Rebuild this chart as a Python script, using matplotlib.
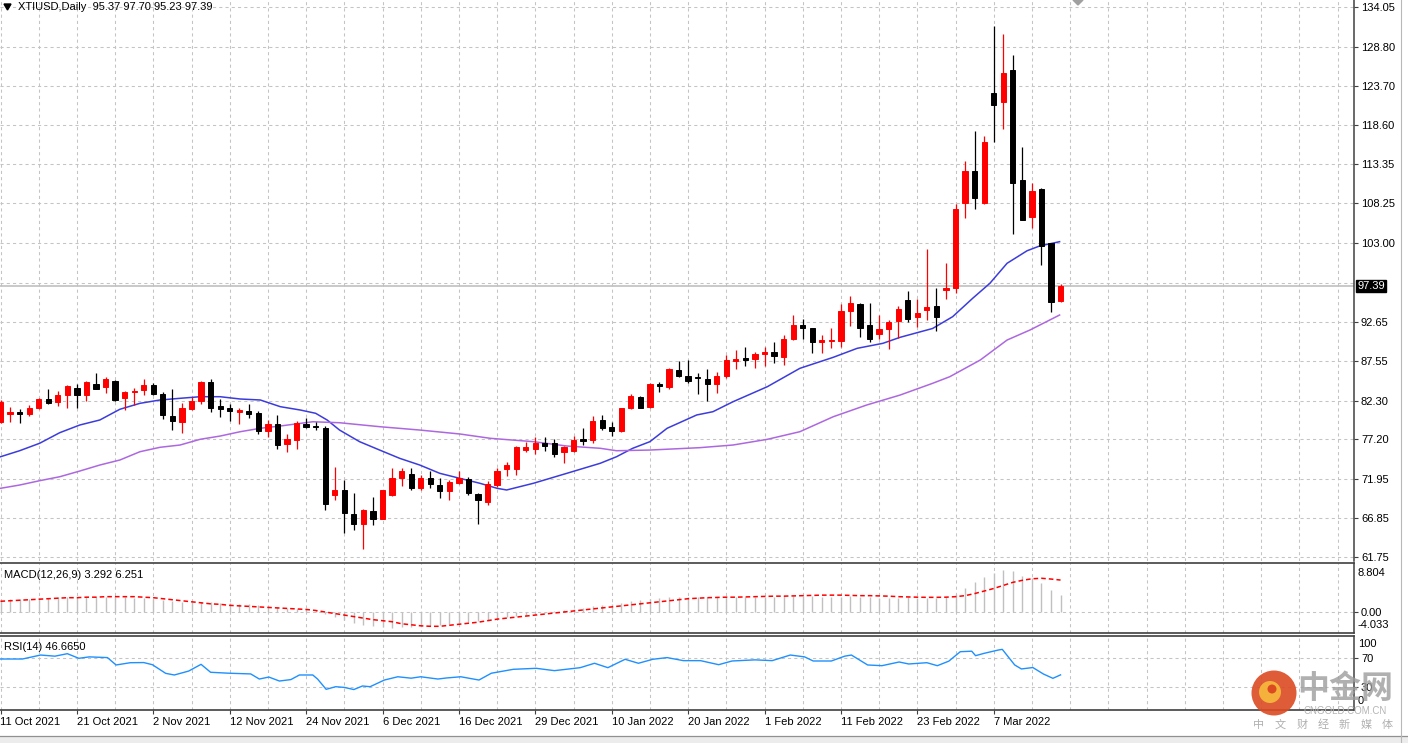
import numpy as np
import matplotlib
matplotlib.use('Agg')
import matplotlib.pyplot as plt
from matplotlib.patches import Rectangle, Ellipse, Polygon
import matplotlib.transforms as mtrans

# ---- data ----
opens = [79.5, 80.5, 80.8, 80.5, 81.4, 82.5, 82.1, 83.1, 84.0, 83.1,
         84.5, 84.1, 84.9, 82.6, 83.4, 83.7, 84.3, 83.2, 80.3, 79.5,
         81.2, 82.2, 84.7, 81.6, 81.3, 80.8, 81.0, 80.7, 78.3, 79.2,
         76.6, 77.1, 79.2, 79.0, 78.7, 69.9, 70.6, 67.4, 66.1, 67.8,
         66.8, 69.9, 72.1, 72.7, 70.8, 72.2, 71.2, 70.4, 71.5, 72.0,
         70.0, 69.0, 71.2, 73.3, 73.3, 75.8, 75.9, 76.7, 76.7, 75.6,
         75.7, 77.2, 77.1, 79.7, 78.9, 78.3, 81.3, 82.8, 81.5, 84.45,
         84.1, 86.3, 85.5, 85.35, 85.2, 84.5, 85.5, 87.5, 87.9, 87.8,
         88.4, 88.7, 88.1, 90.4, 92.25, 91.8, 90.0, 90.15, 90.2, 94.1,
         95.0, 92.25, 91.1, 91.7, 92.8, 95.5, 93.3, 94.2, 94.8, 96.85,
         97.1, 108.3, 112.5, 108.3, 122.7, 121.5, 125.8, 111.3, 106.5, 110.1,
         103.0, 95.37]
highs = [82.4, 81.5, 81.2, 81.7, 82.7, 83.8, 83.6, 84.3, 84.5, 84.9,
         86.0, 85.4, 85.0, 83.6, 84.0, 85.2, 84.6, 83.4, 83.8, 82.0,
         82.8, 84.9, 85.2, 82.5, 81.9, 81.3, 81.9, 80.9, 79.8, 80.4,
         77.9, 79.6, 80.0, 79.5, 79.0, 73.6, 71.9, 70.1, 68.1, 69.7,
         70.6, 73.4, 73.4, 73.5, 72.5, 73.1, 72.1, 71.9, 73.0, 72.3,
         70.1, 71.7, 73.4, 74.3, 76.3, 76.9, 77.5, 77.5, 77.2, 76.3,
         77.7, 78.7, 80.3, 80.4, 79.5, 81.4, 83.2, 82.9, 84.6, 84.8,
         86.6, 87.5, 87.7, 86.0, 86.5, 86.1, 88.3, 89.0, 89.3, 88.7,
         89.3, 90.05, 90.9, 93.6, 93.0, 91.9, 90.9, 91.9, 95.0, 96.1,
         95.2, 95.1, 93.5, 92.9, 94.7, 96.7, 95.7, 102.2, 97.1, 100.4,
         108.15, 113.8, 117.75, 117.1, 131.55, 130.5, 127.7, 115.7, 110.95, 110.2,
         103.0, 97.70]
lows = [79.3, 79.5, 79.4, 80.3, 81.2, 81.8, 81.6, 81.3, 81.3, 82.3,
        83.8, 83.3, 82.3, 81.1, 81.7, 83.1, 83.0, 79.9, 78.4, 78.1,
        81.1, 81.9, 80.8, 80.2, 79.6, 79.2, 80.0, 77.9, 77.5, 75.9,
        75.5, 75.9, 78.7, 78.5, 67.9, 69.3, 64.9, 65.3, 62.8, 66.0,
        66.7, 69.8, 71.1, 70.6, 70.6, 70.8, 69.5, 69.3, 71.3, 69.9,
        66.1, 68.6, 71.0, 72.4, 72.5, 75.5, 75.3, 75.7, 74.9, 74.1,
        75.6, 76.5, 76.7, 78.4, 77.7, 78.2, 81.2, 81.3, 81.4, 83.4,
        83.9, 85.45, 84.6, 83.2, 82.3, 83.3, 85.3, 86.4, 86.8, 86.6,
        86.8, 87.3, 87.0, 90.3, 90.4, 88.6, 88.6, 89.2, 89.4, 92.1,
        90.7, 90.0, 90.4, 89.05, 90.5, 92.6, 92.0, 92.9, 91.4, 95.7,
        96.4, 106.3, 107.45, 108.15, 116.3, 118.0, 104.2, 106.05, 105.0, 100.1,
        93.9, 95.23]
closes = [82.1, 80.8, 80.5, 81.4, 82.5, 82.0, 83.0, 84.2, 83.0, 84.7,
          83.9, 85.1, 82.4, 83.5, 83.6, 84.3, 83.2, 80.4, 79.6, 81.4,
          82.3, 84.7, 81.3, 81.2, 80.9, 81.1, 80.6, 78.3, 79.2, 76.5,
          77.3, 79.4, 78.9, 78.8, 68.7, 70.6, 67.5, 66.1, 67.9, 66.7,
          70.5, 72.2, 73.1, 70.8, 72.2, 71.3, 70.4, 71.6, 72.1, 70.1,
          69.2, 71.4, 73.1, 73.9, 76.2, 76.2, 76.8, 76.4, 75.3, 76.2,
          77.1, 77.0, 79.6, 78.7, 78.3, 81.3, 82.9, 81.4, 84.5, 84.2,
          86.4, 85.54, 84.9, 85.25, 84.5, 85.5, 87.7, 87.75, 87.65, 88.5,
          88.7, 88.2, 90.4, 92.2, 91.9, 90.05, 90.3, 90.3, 94.1, 95.1,
          91.9, 90.4, 91.7, 92.7, 94.4, 93.0, 93.8, 94.6, 93.25, 97.15,
          107.45, 112.5, 109.0, 116.3, 121.2, 125.4, 110.95, 106.1, 109.85, 102.6,
          95.3, 97.39]

ma_fast_bar = [0, 2.0, 4.1, 6.2, 8.3, 10.4, 12.5, 14.6, 16.7, 18.8, 20.9, 23, 25.1, 27.2,
               29.3, 31.4, 33, 34.2, 35.5, 37.6, 39.7, 41.8, 43.9, 46, 48.1, 50.2, 52, 53,
               55.8, 59.3, 62.8, 64.5, 66.2, 68, 69.8, 72.9, 74.6, 76.7, 80.3, 83.7, 87.2,
               89.7, 92.4, 94.2, 97.6, 99.7, 101.8, 103.6, 105.4, 107.5, 108.8, 110.9]
ma_fast_val = [74.93, 75.72, 76.7, 78.09, 79.1, 79.76, 81.17, 81.95, 82.39, 82.61, 82.82,
               82.82, 82.52, 82.39, 81.51, 81.07, 80.64, 79.76, 78.44, 76.91, 75.81, 74.72,
               73.84, 72.75, 72.09, 71.44, 70.78, 70.56, 71.44, 72.75, 74.07, 74.93, 76.04,
               76.91, 78.67, 80.42, 80.85, 82.16, 84.14, 86.55, 88.0, 89.18, 89.84, 90.63,
               91.79, 93.34, 95.76, 97.73, 100.36, 102.01, 102.63, 103.2]

ma_slow_bar = [0, 2, 4.1, 6.2, 8.3, 10.4, 12.5, 14.6, 16.7, 18.8, 20.9, 23, 25.1, 27.2, 29.3,
               32.7, 35.5, 39.7, 43.9, 48.1, 51.3, 55.8, 59.3, 62.8, 64.5, 68, 73.2, 76.7,
               80.3, 83.7, 87.2, 90.7, 94.2, 97.6, 99.4, 102.6, 105.4, 107.8, 110.9]
ma_slow_val = [70.78, 71.21, 71.78, 72.3, 73.05, 73.84, 74.5, 75.59, 76.17, 76.47, 77.22,
               77.65, 78.22, 78.67, 78.97, 79.53, 79.4, 78.88, 78.44, 77.92, 77.35, 76.91,
               76.34, 76.04, 75.72, 75.81, 76.12, 76.47, 77.22, 78.22, 80.19, 81.73, 83.04,
               84.58, 85.45, 87.65, 90.27, 91.59, 93.56]

macd_main = [2.4, 2.5, 2.5, 2.6, 2.7, 2.8, 2.9, 3.0, 3.0, 3.0,
             3.0, 3.0, 2.9, 2.9, 2.8, 2.7, 2.6, 2.4, 2.2, 2.0,
             1.9, 1.9, 1.9, 1.8, 1.7, 1.6, 1.5, 1.3, 1.1, 0.9,
             0.7, 0.6, 0.5, 0.4, -0.4, -1.0, -1.6, -2.1, -2.5, -2.8,
             -3.0, -3.1, -3.0, -2.9, -2.8, -2.7, -2.5, -2.4, -2.2, -2.0,
             -1.8, -1.6, -1.3, -1.0, -0.7, -0.5, -0.3, -0.1, 0.1, 0.3,
             0.5, 0.8, 1.1, 1.3, 1.5, 1.8, 2.1, 2.3, 2.5, 2.7,
             2.9, 3.0, 3.0, 3.0, 2.9, 2.9, 3.0, 3.0, 3.0, 3.0,
             3.0, 3.0, 3.1, 3.2, 3.2, 3.1, 3.0, 2.9, 3.0, 3.1,
             3.0, 2.9, 2.8, 2.8, 2.8, 2.9, 2.8, 2.8, 2.8, 2.9,
             3.5, 4.6, 5.9, 6.8, 7.6, 8.2, 8.0, 7.1, 6.7, 5.6,
             4.4, 3.292]
macd_signal = [2.1, 2.2, 2.3, 2.4, 2.5, 2.6, 2.7, 2.8, 2.8, 2.9,
               2.9, 3.0, 3.0, 3.0, 3.0, 2.9, 2.8, 2.6, 2.4, 2.2,
               2.0, 1.8, 1.6, 1.5, 1.3, 1.2, 1.1, 1.0, 0.9, 0.8,
               0.7, 0.6, 0.5, 0.3, 0.0, -0.3, -0.6, -0.9, -1.2, -1.5,
               -1.7, -1.9, -2.3, -2.5, -2.7, -2.8, -2.8, -2.6, -2.4, -2.2,
               -2.0, -1.7, -1.4, -1.2, -1.0, -0.8, -0.6, -0.4, -0.2, 0.0,
               0.2, 0.4, 0.6, 0.8, 1.0, 1.2, 1.4, 1.6, 1.8, 2.0,
               2.2, 2.4, 2.6, 2.7, 2.8, 2.85, 2.9, 2.9, 2.95, 3.0,
               3.05, 3.1, 3.1, 3.15, 3.2, 3.25, 3.3, 3.3, 3.3, 3.25,
               3.2, 3.2, 3.15, 3.1, 3.0, 2.95, 2.9, 2.87, 2.87, 2.9,
               3.0, 3.2, 3.6, 4.1, 4.6, 5.2, 5.8, 6.2, 6.5, 6.6,
               6.45, 6.251]

rsi_bar = [0, 2.3, 4.2, 5.7, 7, 8.2, 9.3, 11.2, 12.1, 13.6, 15, 15.9, 17.3, 18.2, 19.7, 21,
           22, 23.9, 26.2, 27.1, 28.1, 29.2, 30.4, 31.3, 32.7, 33.2, 34.1, 35.1, 36, 37,
           37.9, 38.7, 40.2, 41.6, 43, 44, 45.8, 46.7, 48.2, 50.1, 51.4, 53.7, 56.1, 58,
           60.7, 62.2, 63.6, 65.4, 66.8, 68.3, 69.8, 71.5, 73.3, 75.2, 76.6, 79, 80.8,
           82.7, 84.2, 85.1, 87, 88.4, 89.1, 90.8, 92.3, 94.1, 95.1, 97, 98.1, 99.3,
           100.5, 101.7, 102.1, 103, 104.5, 104.9, 106.2, 106.9, 108.1, 109.2, 110.2, 111]
rsi_val = [69, 69, 74.6, 73, 76.5, 70, 72, 71, 60.6, 63.8, 64, 61, 48.8, 46.5, 52, 61.5,
           50.3, 49, 48, 40.8, 43.6, 38, 40, 46.5, 46.5, 40.8, 26.3, 30, 29, 26,
           31, 30, 39.4, 44, 42, 44, 40.8, 42.3, 44, 39.4, 49, 54.5, 55.9, 52.6,
           56.8, 63, 56.8, 68.6, 63, 68.6, 71, 66.7, 66.7, 61, 66.2, 67.8, 66.7,
           74.6, 72, 66.2, 66.2, 73, 74.6, 60.6, 59.6, 64.8, 62, 63.8, 59.6, 66,
           79.3, 80, 73.7, 77, 81.7, 82.6, 60.6, 55, 57, 47.9, 41.8, 46.665]

price_ticks = [134.05, 128.80, 123.70, 118.60, 113.35, 108.25, 103.00,
               92.65, 87.55, 82.30, 77.20, 71.95, 66.85, 61.75]
date_labels = ["11 Oct 2021", "21 Oct 2021", "2 Nov 2021", "12 Nov 2021", "24 Nov 2021",
               "6 Dec 2021", "16 Dec 2021", "29 Dec 2021", "10 Jan 2022", "20 Jan 2022",
               "1 Feb 2022", "11 Feb 2022", "23 Feb 2022", "7 Mar 2022"]

# ---- figure geometry ----
W, H = 1408, 743
FONT = 'Liberation Sans'
FS = 8
plt.rcParams['font.family'] = [FONT, 'DejaVu Sans']
fig = plt.figure(figsize=(W / 100, H / 100), dpi=100)

def fx(px):
    return px / W

def fy(py):
    return 1 - py / H

def axes_px(x0, y0, x1, y1):
    return fig.add_axes([fx(x0), fy(y1), fx(x1) - fx(x0), fy(y0) - fy(y1)])

def disc(xc, yc, r, **kw):
    # round patch given in pixel units
    fig.add_artist(Ellipse((fx(xc), fy(yc)), 2 * r / W, 2 * r / H,
                           transform=fig.transFigure, **kw))

ax = axes_px(0, 0, 1354, 561)
axm = axes_px(0, 563.3, 1354, 632.7)
axr = axes_px(0, 636, 1354, 710)

BAR = 9.55
xl = (-0.5 / BAR, (1354 - 0.5) / BAR)
grid_kw = dict(color='#c4c4c4', lw=0.75, ls=(0, (3, 3)), zorder=0)
vgrid = np.arange(0, 142, 4)
frame = '#404040'

for a in (ax, axm, axr):
    a.set_xlim(*xl)
    for s in ('top', 'left', 'bottom'):
        a.spines[s].set_visible(False)
    a.spines['right'].set_color(frame)
    a.spines['right'].set_linewidth(1.1)
    for v in vgrid:
        a.axvline(v, **grid_kw)
    a.tick_params(axis='x', bottom=False, labelbottom=False)
    a.yaxis.tick_right()
    a.tick_params(axis='y', direction='out', length=3, width=0.8, color=frame,
                  labelsize=FS, pad=2)
for a in (axm, axr):
    for s in ('top', 'bottom'):
        a.spines[s].set_visible(True)
        a.spines[s].set_color(frame)
        a.spines[s].set_linewidth(1.2)

# ---- main price window ----
ax.set_ylim(61.75 - 4 / 7.607, 134.05 + 7 / 7.607)
for t in price_ticks + [97.83]:
    ax.axhline(t, **grid_kw)
ax.set_yticks(price_ticks)
ax.set_yticklabels([f"{t:.2f}" for t in price_ticks])
ax.axhline(closes[-1], color='#c0c0c0', lw=1.2, zorder=1)

xs = np.arange(len(opens))
o = np.array(opens); c = np.array(closes)
up = c >= o
cols = np.where(up, '#ff0000', '#000000')
ax.vlines(xs, lows, highs, colors=cols, lw=0.9, zorder=3)
ax.bar(xs, np.abs(c - o), bottom=np.minimum(o, c), width=0.55, color=cols,
       edgecolor=cols, linewidth=0.7, zorder=4)

ax.plot(ma_fast_bar, ma_fast_val, color='#3c3cdc', lw=1.1, zorder=2)
ax.plot(ma_slow_bar, ma_slow_val, color='#ad68e0', lw=1.1, zorder=2)

trans = mtrans.blended_transform_factory(ax.transAxes, ax.transData)
ax.text(1.0 + 3 / 1354, closes[-1], f"{closes[-1]:.2f}", transform=trans, color='white',
        fontsize=FS, va='center', ha='left',
        bbox=dict(boxstyle='square,pad=0.12', fc='black', ec='black'))

fig.text(fx(18), fy(7), "XTIUSD,Daily  95.37 97.70 95.23 97.39", fontsize=FS,
         va='center', ha='left', color='black')
fig.add_artist(Polygon([(fx(4), fy(4)), (fx(11), fy(4)), (fx(7.5), fy(10))],
                       closed=True, color='black', transform=fig.transFigure))
fig.add_artist(Polygon([(fx(1073), fy(0)), (fx(1083), fy(0)), (fx(1078), fy(5))],
                       closed=True, color='#a0a0a0', transform=fig.transFigure))

# ---- MACD window ----
axm.set_ylim(-(632.7 - 612) / 5.11, (612 - 563.3) / 5.11)
axm.axhline(0, **grid_kw)
axm.vlines(xs, 0, macd_main, colors='#c0c0c0', lw=1.0, zorder=2)
axm.plot(xs, macd_signal, color='#ff0000', lw=1.1, ls=(0, (3, 2)), zorder=3)
axm.set_yticks([0])
axm.set_yticklabels(["0.00"])
fig.text(fx(1358), fy(572.5), "8.804", fontsize=FS, va='center', ha='left')
fig.text(fx(1358), fy(624.5), "-4.033", fontsize=FS, va='center', ha='left')
fig.text(fx(4), fy(575), "MACD(12,26,9) 3.292 6.251", fontsize=FS, va='center', ha='left')

# ---- RSI window ----
axr.set_ylim(-(710 - 708) / 0.71, 100 + (637 - 636) / 0.71)
axr.axhline(70, **grid_kw)
axr.axhline(30, **grid_kw)
axr.plot(rsi_bar, rsi_val, color='#1e90ff', lw=1.0, zorder=3)
axr.set_yticks([70, 30])
axr.set_yticklabels(["70", "30"])
fig.text(fx(1358), fy(644), "100", fontsize=FS, va='center', ha='left')
fig.text(fx(1358), fy(701.5), "0", fontsize=FS, va='center', ha='left')
fig.text(fx(4), fy(647), "RSI(14) 46.6650", fontsize=FS, va='center', ha='left')

axr.set_xticks(np.arange(0, 8 * len(date_labels), 8))
axr.set_xticklabels(date_labels, ha='left', fontsize=FS)
axr.tick_params(axis='x', bottom=True, labelbottom=True, direction='out', length=3,
                width=0.8, color=frame, pad=2)

# ---- bottom strip and right border ----
fig.add_artist(Rectangle((0, 0), 1, fy(736), fc='#ececec', ec='none',
                         transform=fig.transFigure))
fig.add_artist(plt.Line2D([0, 1], [fy(736), fy(736)], color='#909090', lw=0.9,
                          transform=fig.transFigure))
fig.add_artist(plt.Line2D([fx(1401), fx(1401)], [0, 1], color='#b8b8b8', lw=0.8,
                          transform=fig.transFigure))

# ---- watermark ----
disc(1274, 693, 22.5, fc='#dc4a22', ec='none', alpha=0.9)
disc(1270, 692, 11, fc='#f4b23c', ec='none')
disc(1272, 689, 4.5, fc='#dc4a22', ec='none')
fig.text(fx(1297), fy(689), "中金网", fontsize=23, fontweight='bold', color='#9c9c9c',
         alpha=0.8, va='center', ha='left', family=['Noto Sans CJK SC', 'DejaVu Sans'])
fig.text(fx(1303), fy(710.5), "CNGOLD.COM.CN", fontsize=7, color='#b4b4b4', va='center',
         ha='left')
for k, ch in enumerate("中文财经新媒体"):
    fig.text(fx(1259 + 21.4 * k), fy(725), ch, fontsize=8, color='#b0b0b0',
             va='center', ha='center', family=['Noto Sans CJK SC', 'DejaVu Sans'])

fig.savefig("out.png", dpi=100)
